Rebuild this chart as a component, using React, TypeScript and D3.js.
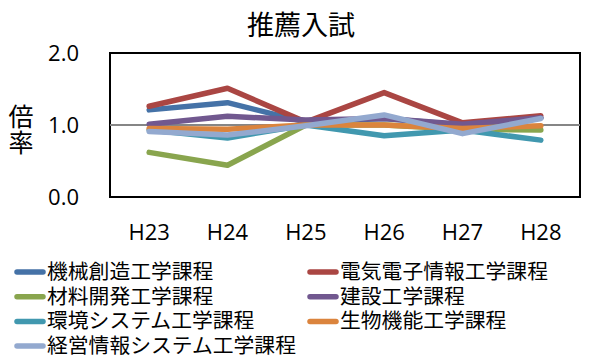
import React from "react";
import * as d3 from "d3";

const categories = ["H23", "H24", "H25", "H26", "H27", "H28"];
const seriesNames = [
  "機械創造工学課程",
  "電気電子情報工学課程",
  "材料開発工学課程",
  "建設工学課程",
  "環境システム工学課程",
  "生物機能工学課程",
  "経営情報システム工学課程",
];
const kikai = [1.21, 1.31, 1.04, 1.09, 1.0, 1.1];
const denki = [1.26, 1.51, 1.04, 1.45, 1.03, 1.13];
const zairyo = [0.62, 0.44, 1.0, 1.0, 0.94, 0.93];
const kensetsu = [1.01, 1.12, 1.07, 1.09, 1.01, 1.1];
const kankyo = [0.93, 0.82, 1.0, 0.85, 0.93, 0.79];
const seibutsu = [0.95, 0.94, 1.0, 1.0, 0.95, 0.99];
const keiei = [0.91, 0.86, 0.99, 1.14, 0.88, 1.09];
const seriesValues = [kikai, denki, zairyo, kensetsu, kankyo, seibutsu, keiei];
const colors = ["#4572A7", "#AA4643", "#89A54E", "#71588F", "#4198AF", "#DB843D", "#93A9CF"];
const yTicks = [0, 1, 2];

export default function App() {
  const left = 110, right = 580, top = 53, bottom = 197;
  const x = d3.scaleBand<string>().domain(categories).range([left, right]);
  const y = d3.scaleLinear().domain([0, 2]).range([bottom, top]);
  const line = d3
    .line<number>()
    .x((_, i) => (x(categories[i]) as number) + x.bandwidth() / 2)
    .y((d) => y(d));
  const font = "'Noto Sans CJK JP', 'Noto Sans', sans-serif";
  const numFont = "'Open Sans', sans-serif";
  const legendPos = (i: number) => ({
    lx: i % 2 === 0 || i === 6 ? 15 : 308,
    ly: 272 + Math.floor(i / 2) * 24.7,
  });
  return (
    <svg width={600} height={360} style={{ position: "absolute", left: 0, top: 0, background: "#fff" }} fontFamily={font}>
      <rect x={0} y={0} width={600} height={360} fill="#fff" />
      <text x={301} y={35} fontSize={27} textAnchor="middle" fill="#000">推薦入試</text>
      {yTicks.map((t) => (
        <text key={t} x={79} y={y(t) + 8} fontSize={22} textAnchor="end" fill="#000" fontFamily={numFont}>
          {t.toFixed(1)}
        </text>
      ))}
      <text x={21} y={126} fontSize={25} textAnchor="middle" fill="#000">倍</text>
      <text x={21} y={152} fontSize={25} textAnchor="middle" fill="#000">率</text>
      {categories.map((c) => (
        <text key={c} x={(x(c) as number) + x.bandwidth() / 2} y={240} fontSize={22} textAnchor="middle" fill="#000" fontFamily={numFont}>
          {c}
        </text>
      ))}
      <rect x={left} y={top} width={right - left} height={bottom - top} fill="none" stroke="#000" strokeWidth={2} />
      <line x1={left} x2={right} y1={y(1)} y2={y(1)} stroke="#868686" strokeWidth={2} />
      {seriesValues.map((vals, i) => (
        <path key={i} d={line(vals) || ""} fill="none" stroke={colors[i]} strokeWidth={5.5} strokeLinejoin="round" strokeLinecap="round" />
      ))}
      {seriesNames.map((name, i) => {
        const { lx, ly } = legendPos(i);
        return (
          <g key={name}>
            <line x1={lx + 2} x2={lx + 28} y1={ly} y2={ly} stroke={colors[i]} strokeWidth={5.5} strokeLinecap="round" />
            <text x={lx + 32} y={ly + 7} fontSize={20.8} fill="#000">{name}</text>
          </g>
        );
      })}
    </svg>
  );
}
